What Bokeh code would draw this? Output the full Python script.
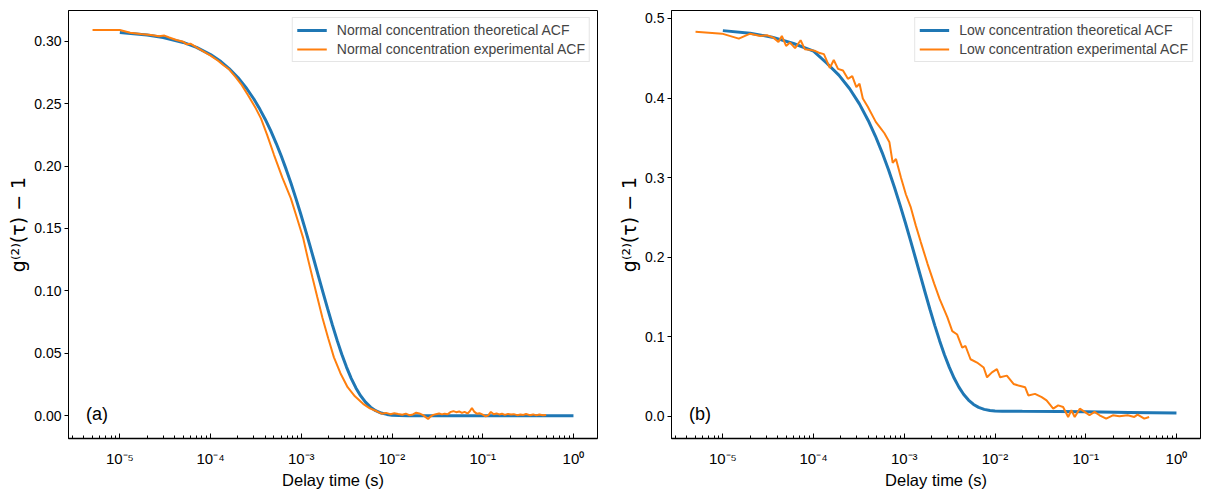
from bokeh.plotting import figure
from bokeh.models import Range1d, FixedTicker, CustomJSTickFormatter, NumeralTickFormatter, Label
from bokeh.layouts import row
from bokeh.embed import file_html
from bokeh.resources import INLINE

# ---------------- data ----------------
# Panel (a): normal concentration
normal_theo_tau = [1.0e-5, 2.0e-5, 3.0e-5, 5.0e-5, 7.0e-5, 1.0e-4, 1.3e-4, 1.6e-4, 2.0e-4, 2.5e-4,
                   3.0e-4, 3.5e-4, 4.0e-4, 4.6e-4, 5.3e-4, 6.0e-4, 6.8e-4, 7.7e-4, 8.7e-4, 9.8e-4,
                   1.1e-3, 1.23e-3, 1.38e-3, 1.55e-3, 1.74e-3, 1.95e-3, 2.2e-3, 2.5e-3, 2.8e-3, 3.15e-3,
                   3.55e-3, 4.0e-3, 4.5e-3, 5.1e-3, 5.8e-3, 6.6e-3, 7.6e-3, 8.8e-3, 1.0e-2, 1.2e-2,
                   1.5e-2, 2.0e-2, 4.0e-2, 0.1, 0.3, 1.0]
normal_theo_g = [0.307, 0.305, 0.303, 0.299, 0.2951, 0.2893, 0.2837, 0.2781, 0.2709, 0.2621,
                 0.2537, 0.2454, 0.2375, 0.2283, 0.2180, 0.2082, 0.1975, 0.1862, 0.1743, 0.1622,
                 0.1499, 0.1376, 0.1247, 0.1114, 0.0984, 0.0857, 0.0727, 0.0597, 0.0490, 0.0389,
                 0.0299, 0.0222, 0.0160, 0.0108, 0.0068, 0.0040, 0.0021, 0.0010, 0.0004, 0.0001,
                 0.0, 0.0, 0.0, 0.0, 0.0, 0.0]

normal_exp_tau = [5.0e-6, 1.0e-5, 1.3e-5, 1.7e-5, 2.2e-5, 2.7e-5, 3.1e-5, 3.5e-5, 4.2e-5, 5.0e-5,
                  5.5e-5, 6.0e-5, 7.0e-5, 8.5e-5, 1.0e-4, 1.2e-4, 1.4e-4, 1.6e-4, 1.9e-4, 2.2e-4,
                  2.6e-4, 3.16e-4, 3.6e-4, 4.2e-4, 5.0e-4, 6.2e-4, 7.67e-4, 9.0e-4, 1.05e-3, 1.18e-3,
                  1.33e-3, 1.5e-3, 1.71e-3, 1.98e-3, 2.29e-3, 2.7e-3, 3.24e-3, 3.9e-3, 4.8e-3, 5.7e-3,
                  6.8e-3, 7.7e-3, 8.6e-3, 9.6e-3, 1.06e-2, 1.17e-2, 1.3e-2, 1.42e-2, 1.55e-2, 1.7e-2,
                  1.85e-2, 2.0e-2, 2.2e-2, 2.35e-2, 2.5e-2, 2.65e-2, 2.85e-2, 3.05e-2, 3.3e-2, 3.55e-2,
                  3.8e-2, 4.1e-2, 4.45e-2, 4.75e-2, 5.1e-2, 5.5e-2, 5.9e-2, 6.3e-2, 6.8e-2, 7.2e-2,
                  7.6e-2, 8.1e-2, 8.6e-2, 9.2e-2, 0.1, 0.108, 0.115, 0.123, 0.132, 0.142,
                  0.152, 0.163, 0.175, 0.19, 0.205, 0.22, 0.24, 0.26, 0.28, 0.3,
                  0.33, 0.36, 0.39, 0.42, 0.46, 0.5]
normal_exp_g = [0.309, 0.309, 0.3068, 0.3058, 0.3050, 0.3040, 0.3045, 0.3030, 0.3010, 0.2995,
                0.2975, 0.2980, 0.2950, 0.2915, 0.2885, 0.2845, 0.2805, 0.2775, 0.2710, 0.2650,
                0.2565, 0.2460, 0.2380, 0.2250, 0.2090, 0.1905, 0.1741, 0.158, 0.1422, 0.126,
                0.1104, 0.095, 0.0785, 0.062, 0.0467, 0.034, 0.0228, 0.0155, 0.0095, 0.0058,
                0.0035, 0.0016, 0.0022, 0.0012, 0.0019, 0.0013, 0.0007, 0.0016, 0.0004, 0.0010,
                0.0024, 0.0018, 0.0004, -0.0012, -0.0027, -0.0008, 0.0006, 0.0012, 0.0018, 0.0010,
                0.0016, 0.0011, 0.0030, 0.0036, 0.0028, 0.0034, 0.0022, 0.0030, 0.0018, 0.0035,
                0.0062, 0.0030, 0.0016, 0.0020, 0.0008, -0.0005, 0.0002, 0.0030, 0.0012, 0.0018,
                0.0010, 0.0016, 0.0006, 0.0014, 0.0009, 0.0012, 0.0004, 0.0010, 0.0006, 0.0013,
                0.0004, 0.0010, 0.0002, 0.0009, 0.0003, 0.0006]

# Panel (b): low concentration
low_theo_tau = [1.0e-5, 2.0e-5, 3.5e-5, 6.0e-5, 1.0e-4, 1.4e-4, 1.9e-4, 2.5e-4, 3.2e-4, 4.0e-4,
                4.8e-4, 5.7e-4, 6.7e-4, 7.8e-4, 9.0e-4, 1.03e-3, 1.17e-3, 1.33e-3, 1.5e-3, 1.7e-3,
                1.92e-3, 2.17e-3, 2.45e-3, 2.77e-3, 3.13e-3, 3.55e-3, 4.0e-3, 4.5e-3, 5.1e-3, 5.8e-3,
                6.6e-3, 7.6e-3, 8.8e-3, 1.0e-2, 1.2e-2, 2.0e-2, 5.0e-2, 0.1, 0.3, 1.0]
low_theo_g = [0.4847, 0.4814, 0.4765, 0.4685, 0.4590, 0.4437, 0.4288, 0.4117, 0.3926, 0.3718,
              0.3522, 0.3314, 0.3097, 0.2875, 0.2651, 0.2429, 0.2211, 0.1986, 0.1773, 0.1552,
              0.1342, 0.1139, 0.0950, 0.0773, 0.0617, 0.0477, 0.0366, 0.0276, 0.0203, 0.0148,
              0.0111, 0.0086, 0.0071, 0.0065, 0.0063, 0.0061, 0.0058, 0.0055, 0.0048, 0.0041]

low_exp_tau = [5.0e-6, 9.8e-6, 1.5e-5, 2.0e-5, 2.59e-5, 3.06e-5, 3.61e-5, 4.1e-5, 4.47e-5, 4.98e-5,
               5.5e-5, 6.25e-5, 7.2e-5, 8.0e-5, 9.5e-5, 1.05e-4, 1.17e-4, 1.3e-4, 1.51e-4, 1.67e-4,
               1.86e-4, 2.11e-4, 2.39e-4, 2.67e-4, 2.96e-4, 3.21e-4, 3.49e-4, 3.96e-4, 4.85e-4, 5.32e-4,
               6.04e-4, 6.86e-4, 7.45e-4, 8.1e-4, 9.2e-4, 1.04e-3, 1.18e-3, 1.34e-3, 1.52e-3, 1.8e-3,
               2.13e-3, 2.45e-3, 2.98e-3, 3.38e-3, 3.83e-3, 4.35e-3, 4.73e-3, 5.37e-3, 6.34e-3, 7.5e-3,
               8.17e-3, 9.25e-3, 1.05e-2, 1.14e-2, 1.35e-2, 1.6e-2, 1.81e-2, 2.15e-2, 2.33e-2, 2.76e-2,
               3.27e-2, 3.7e-2, 4.38e-2, 4.97e-2, 5.63e-2, 6.4e-2, 6.95e-2, 7.56e-2, 8.6e-2, 9.75e-2,
               0.110, 0.125, 0.142, 0.168, 0.199, 0.235, 0.29, 0.343, 0.373, 0.442, 0.5]
low_exp_g = [0.4833, 0.4809, 0.4746, 0.4809, 0.4780, 0.4789, 0.4759, 0.4705, 0.4780, 0.4655,
             0.4697, 0.4627, 0.4726, 0.4614, 0.4602, 0.4590, 0.4565, 0.4552, 0.4378, 0.4478,
             0.4366, 0.4345, 0.4241, 0.4274, 0.4137, 0.4179, 0.3993, 0.3890, 0.3700, 0.3640,
             0.3557, 0.3443, 0.3184, 0.3234, 0.2998, 0.2790, 0.2624, 0.2396, 0.2189, 0.1919,
             0.1670, 0.1475, 0.1245, 0.1070, 0.1027, 0.0862, 0.0883, 0.0716, 0.0675, 0.0613,
             0.0489, 0.0551, 0.0592, 0.0489, 0.0510, 0.0406, 0.0386, 0.0364, 0.0261, 0.0281,
             0.0240, 0.0199, 0.0095, 0.0137, 0.0116, -0.0009, 0.0075, -0.0009, 0.0095, 0.0054,
             0.0012, 0.0054, 0.0012, -0.0030, 0.0012, 0.0000, 0.0012, -0.0009, 0.0020, -0.0030, -0.0009]

TICK_VALUES = [1e-5, 1e-4, 1e-3, 1e-2, 1e-1, 1e0]
TICK_LABELS = ["10\u207b\u2075", "10\u207b\u2074", "10\u207b\u00b3", "10\u207b\u00b2", "10\u207b\u00b9", "10\u2070"]
Y_TICKS_A = [0.00, 0.05, 0.10, 0.15, 0.20, 0.25, 0.30]
Y_TICKS_B = [0.0, 0.1, 0.2, 0.3, 0.4, 0.5]

LEGEND_A = ["Normal concentration theoretical ACF", "Normal concentration experimental ACF"]
LEGEND_B = ["Low concentration theoretical ACF", "Low concentration experimental ACF"]

BLUE = "#1f77b4"
ORANGE = "#ff7f0e"
FONT = "Liberation Sans"

LOG_LO, LOG_HI = -5.566, 0.265
MINOR = [m * 10.0 ** k for k in range(-6, 1) for m in range(2, 10)]

TICK_JS = """
const lt = Math.log10(tick);
let best = 0; let bd = 1e9;
for (let i = 0; i < vals.length; i++) {
  const d = Math.abs(lt - Math.log10(vals[i]));
  if (d < bd) { bd = d; best = i; }
}
return labs[best];
"""


def make_panel(width, border_left, border_right, ylo, yhi, yticks, yfmt,
               theo_t, theo_g, exp_t, exp_g, labels, tag):
    p = figure(width=width, height=491, x_axis_type="log",
               x_range=Range1d(10 ** LOG_LO, 10 ** LOG_HI),
               y_range=Range1d(ylo, yhi),
               output_backend="svg", toolbar_location=None,
               min_border_left=border_left, min_border_right=border_right,
               min_border_top=10, min_border_bottom=50)
    p.background_fill_color = "white"
    p.border_fill_color = "white"
    p.outline_line_color = "black"
    p.outline_line_width = 1
    p.outline_line_alpha = 1
    p.xgrid.visible = False
    p.ygrid.visible = False

    p.line(theo_t, theo_g, line_color=BLUE, line_width=3, legend_label=labels[0])
    p.line(exp_t, exp_g, line_color=ORANGE, line_width=2, legend_label=labels[1])

    xa = p.xaxis[0]
    xa.ticker = FixedTicker(ticks=TICK_VALUES, minor_ticks=MINOR)
    xa.formatter = CustomJSTickFormatter(args=dict(vals=TICK_VALUES, labs=TICK_LABELS), code=TICK_JS)
    xa.major_tick_in = 5
    xa.major_tick_out = 0
    xa.minor_tick_in = 3
    xa.minor_tick_out = 0
    xa.major_tick_line_color = "black"
    xa.minor_tick_line_color = "black"
    xa.axis_line_color = "black"
    xa.axis_line_width = 1.4
    xa.major_label_standoff = 11
    xa.major_label_text_font = FONT
    xa.major_label_text_font_size = "15px"
    xa.major_label_text_color = "black"
    xa.axis_label = "Delay time (s)"
    xa.axis_label_text_font = FONT
    xa.axis_label_text_font_size = "16.5px"
    xa.axis_label_text_font_style = "normal"
    xa.axis_label_text_color = "black"
    xa.axis_label_standoff = 1

    ya = p.yaxis[0]
    ya.ticker = FixedTicker(ticks=yticks)
    ya.formatter = NumeralTickFormatter(format=yfmt)
    ya.major_tick_in = 0
    ya.major_tick_out = 4
    ya.minor_tick_line_color = None
    ya.major_tick_line_color = "black"
    ya.axis_line_color = "black"
    ya.axis_line_width = 1
    ya.major_label_standoff = 3
    ya.major_label_text_font = FONT
    ya.major_label_text_font_size = "14px"
    ya.major_label_text_color = "black"
    ya.axis_label = "g\u207d\u00b2\u207e(\u03c4) \u2212 1"
    ya.axis_label_text_font = "DejaVu Sans"
    ya.axis_label_text_font_size = "19px"
    ya.axis_label_text_font_style = "normal"
    ya.axis_label_text_color = "black"
    ya.axis_label_standoff = 2

    lg = p.legend[0]
    lg.location = "top_right"
    lg.margin = 7
    lg.padding = 4
    lg.spacing = 3
    lg.glyph_width = 30
    lg.glyph_height = 16
    lg.label_height = 16
    lg.label_standoff = 10
    lg.label_text_font = FONT
    lg.label_text_font_size = "14px"
    lg.border_line_color = "#cccccc"
    lg.border_line_width = 1
    lg.background_fill_color = "white"
    lg.background_fill_alpha = 0.8

    lx = 10 ** (LOG_LO + 0.033 * (LOG_HI - LOG_LO))
    ly = ylo + 0.034 * (yhi - ylo)
    p.add_layout(Label(x=lx, y=ly, text=tag, text_font=FONT, text_font_size="18px",
                       text_color="black", text_align="left", text_baseline="bottom"))
    return p


p1 = make_panel(607, 68, 10, -0.0183, 0.3246, Y_TICKS_A, "0.00",
                normal_theo_tau, normal_theo_g, normal_exp_tau, normal_exp_g, LEGEND_A, "(a)")
p2 = make_panel(595, 64, 2, -0.028, 0.51, Y_TICKS_B, "0.0",
                low_theo_tau, low_theo_g, low_exp_tau, low_exp_g, LEGEND_B, "(b)")

layout = row(p1, p2)
open("out.html", "w").write(file_html(layout, INLINE, "ACF"))
